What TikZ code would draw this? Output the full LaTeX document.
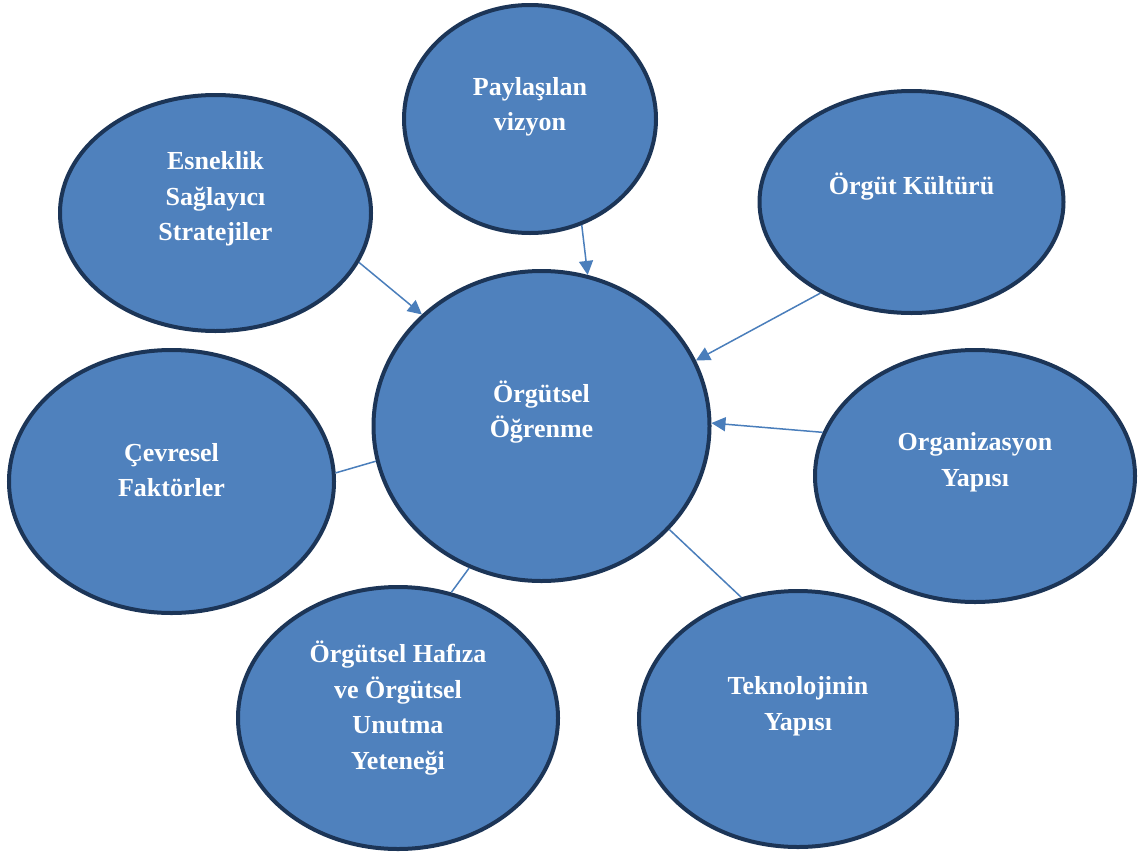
\documentclass[tikz,border=0pt]{standalone}
\usepackage{fontspec}
\setmainfont{Liberation Serif}
\usetikzlibrary{shapes.geometric,arrows.meta}
\definecolor{bubblefill}{HTML}{4F81BD}
\definecolor{bubbleline}{HTML}{1C3557}
\definecolor{linkcol}{HTML}{4A7EBB}
\begin{document}
\begin{tikzpicture}[x=1pt,y=-1pt,
  bubble/.style={ellipse, draw=bubbleline, fill=bubblefill, line width=4pt,
    inner sep=0pt, minimum width=#1},
  bubble/.default=100pt,
  lbl/.style={text=white, align=center, inner sep=0pt,
    font=\fontsize{26}{35.5}\selectfont\bfseries},
  link/.style={draw=linkcol, line width=1.5pt},
  arr/.style={link, -{Triangle[length=14pt,width=14pt]}}]
\useasboundingbox (0,0) rectangle (1145,854);

% bubbles (outer sizes minus the border width)
\node[bubble=252pt, minimum height=228pt] (pay) at (530,119) {};
\node[bubble=311pt, minimum height=236pt] (esn) at (215.5,213) {};
\node[bubble=304pt, minimum height=222pt] (kul) at (911.5,202) {};
\node[bubble=336pt, minimum height=310pt] (ctr) at (541.5,426) {};
\node[bubble=325pt, minimum height=263pt] (cev) at (171.5,481.5) {};
\node[bubble=320pt, minimum height=252pt] (org) at (975,476) {};
\node[bubble=320pt, minimum height=262pt] (haf) at (398,718) {};
\node[bubble=318pt, minimum height=256pt] (tek) at (798,719) {};

% labels
\node[lbl] (payt) at (530,107) {Paylaşılan\\vizyon};
\node[lbl] (esnt) at (215.5,199) {Esneklik\\Sağlayıcı\\Stratejiler};
\node[lbl] (kult) at (911.5,187) {Örgüt Kültürü};
\node[lbl] (ctrt) at (541.5,412) {Örgütsel\\Öğrenme};
\node[lbl] (cevt) at (171.5,470) {Çevresel\\Faktörler};
\node[lbl] (orgt) at (975,462) {Organizasyon\\Yapısı};
\node[lbl] (hast) at (398,708) {Örgütsel Hafıza\\ve Örgütsel\\Unutma\\Yeteneği};
\node[lbl] (tekt) at (798,706) {Teknolojinin\\Yapısı};

% connectors
\draw[arr] (esn.-19.8) -- (ctr.137.1);
\draw[arr] (pay.-64.5) -- (ctr.73.4);
\draw[arr] (kul.-135.8) -- (ctr.23.9);
\draw[arr] (org.164) -- (ctr.1.7);
\draw[link] (cev.3.7) -- (ctr.-168.9);
\draw[link] (haf.67.1) -- (ctr.-117.2);
\draw[link] (tek.115.6) -- (ctr.-39.4);
\end{tikzpicture}
\end{document}
